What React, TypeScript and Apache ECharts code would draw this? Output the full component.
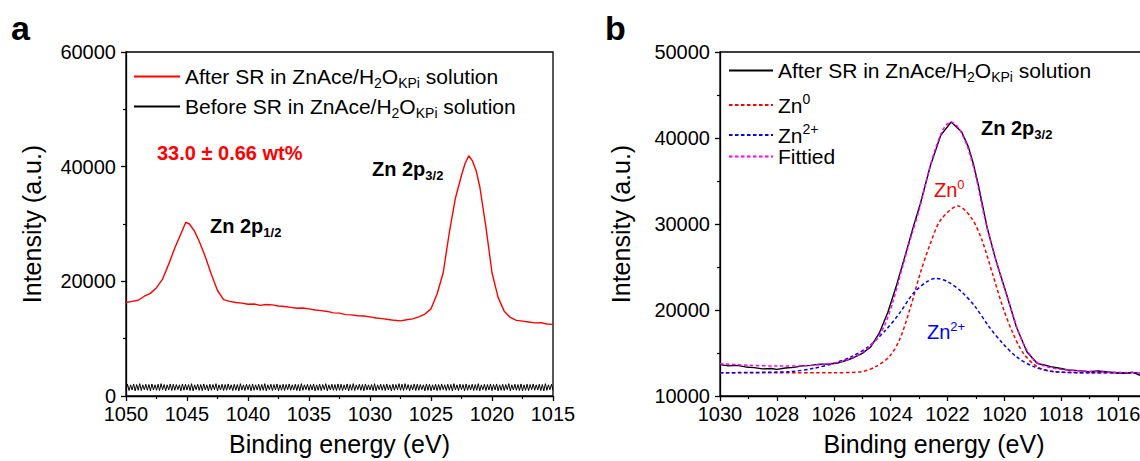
import React, { useEffect, useRef } from 'react';
import * as echarts from 'echarts';

const FONT = "'Liberation Sans', Arial, Helvetica, sans-serif";

// ---------- Panel a : survey of Zn 2p ----------
const xTicksA = [1015, 1020, 1025, 1030, 1035, 1040, 1045, 1050];
const yTicksA = [0, 20000, 40000, 60000];
const energyA = [1050, 1049.5, 1049, 1048.5, 1048, 1047.5, 1047, 1046.5, 1046, 1045.5, 1045.1, 1044.8, 1044.4, 1044, 1043.5, 1043, 1042.5, 1042, 1041.5, 1041, 1040.5, 1040, 1039.5, 1039, 1038.5, 1038, 1037.5, 1037, 1036.5, 1036, 1035.5, 1035, 1034.5, 1034, 1033.5, 1033, 1032.5, 1032, 1031.5, 1031, 1030.5, 1030, 1029.5, 1029, 1028.5, 1028, 1027.5, 1027, 1026.5, 1026, 1025.5, 1025, 1024.5, 1024, 1023.5, 1023, 1022.5, 1022.2, 1021.9, 1021.6, 1021.3, 1021, 1020.5, 1020, 1019.5, 1019, 1018.5, 1018, 1017.5, 1017, 1016.5, 1016, 1015.5, 1015];
const afterA = [16300, 16500, 16700, 17400, 17900, 18900, 20400, 23000, 25800, 28300, 30300, 30000, 28800, 27000, 24300, 21200, 18400, 16800, 16500, 16300, 16200, 16000, 16050, 15800, 15950, 15900, 15700, 15600, 15450, 15300, 15350, 15200, 15000, 14900, 14750, 14500, 14450, 14200, 14150, 14000, 13950, 13800, 13600, 13500, 13350, 13200, 13100, 13300, 13450, 13800, 14300, 15200, 17800, 21500, 28500, 34500, 38500, 40600, 41900, 41000, 39300, 36500, 29500, 21500, 17200, 14800, 13700, 13200, 13050, 12900, 12750, 12800, 12550, 12500];
const beforeStart = 1050;
const beforeStep = 0.125;
const beforeA = [
  1000, 2050, 950, 1950, 1050, 2100, 900, 2000, 1000, 2150, 950, 1950, 1100, 2050, 1000, 2000, 900, 2100, 1050, 1950,
  1000, 2050, 950, 2150, 1100, 2000, 900, 1950, 1050, 2100, 950, 2050, 1000, 2000, 1100, 1950, 900, 2100, 1000, 2050,
  1050, 2000, 950, 2150, 900, 1950, 1100, 2050, 1000, 2000, 950, 2100, 1050, 1950, 900, 2050, 1000, 2000, 1100, 2150,
  900, 1950, 1050, 2050, 950, 2000, 1000, 2100, 1100, 1950, 950, 2050, 1000, 2000, 900, 2150, 1050, 1950, 950, 2050,
  1100, 2000, 900, 2100, 1000, 1950, 1050, 2050, 950, 2000, 1000, 2150, 900, 1950, 1100, 2050, 950, 2000, 1050, 2100,
  900, 1950, 1000, 2050, 950, 2000, 1100, 2100, 1000, 1950, 1050, 2050, 950, 2000, 900, 2150, 1000, 1950, 1100, 2050,
  950, 2000, 1050, 2100, 900, 1950, 1000, 2050, 950, 2000, 1100, 2150, 900, 1950, 1050, 2050, 1000, 2000, 950, 2100,
  1000, 2050, 950, 1950, 1050, 2100, 900, 2000, 1000, 2150, 950, 1950, 1100, 2050, 1000, 2000, 900, 2100, 1050, 1950,
  1050, 2000, 950, 2150, 900, 1950, 1100, 2050, 1000, 2000, 950, 2100, 1050, 1950, 900, 2050, 1000, 2000, 1100, 2150,
  1000, 2050, 950, 2150, 1100, 2000, 900, 1950, 1050, 2100, 950, 2050, 1000, 2000, 1100, 1950, 900, 2100, 1000, 2050,
  900, 1950, 1050, 2050, 950, 2000, 1000, 2100, 1100, 1950, 950, 2050, 1000, 2000, 900, 2150, 1050, 1950, 950, 2050,
  1100, 2000, 900, 2100, 1000, 1950, 1050, 2050, 950, 2000, 1000, 2150, 900, 1950, 1100, 2050, 950, 2000, 1050, 2100,
  950, 2000, 1050, 2100, 900, 1950, 1000, 2050, 950, 2000, 1100, 2150, 900, 1950, 1050, 2050, 1000, 2000, 950, 2100,
  900, 1950, 1000, 2050, 950, 2000, 1100, 2100, 1000, 1950, 1050, 2050, 950, 2000, 900, 2150, 1000, 1950, 1100, 2050,
  1000
];

// ---------- Panel b : Zn 2p3/2 fit ----------
const xTicksB = [1014, 1016, 1018, 1020, 1022, 1024, 1026, 1028, 1030];
const yTicksB = [10000, 20000, 30000, 40000, 50000];
const energyB = [1030, 1029.7, 1029.4, 1029.1, 1028.8, 1028.5, 1028.2, 1028, 1027.7, 1027.4, 1027.1, 1026.8, 1026.5, 1026.2, 1025.9, 1025.6, 1025.3, 1025, 1024.7, 1024.4, 1024.1, 1023.8, 1023.5, 1023.2, 1022.96, 1022.6, 1022.24, 1021.87, 1021.5, 1021.27, 1021.09, 1020.9, 1020.6, 1020.3, 1019.94, 1019.58, 1019.21, 1018.85, 1018.6, 1018.37, 1018.1, 1017.76, 1017.4, 1017.04, 1016.7, 1016.43, 1016.1, 1015.7, 1015.5, 1015.25, 1015, 1014.6, 1014];
const afterB = [13650, 13500, 13560, 13380, 13300, 13150, 13200, 13100, 13260, 13330, 13500, 13560, 13700, 13720, 13800, 14100, 14450, 14950, 15700, 17300, 19700, 22800, 26200, 29700, 32300, 36800, 40300, 41860, 40700, 39000, 37000, 34300, 29500, 25800, 22000, 18060, 15150, 13800, 13600, 13410, 13250, 13020, 12950, 12830, 12900, 12830, 12700, 12640, 12780, 12440, 12500, 12480, 12450];
const fitE = [1030, 1029, 1028, 1027, 1026.3, 1025.8, 1025.3, 1024.9, 1024.5, 1024.2, 1023.9, 1023.6, 1023.3, 1023, 1022.7, 1022.4, 1022.1, 1021.87, 1021.6, 1021.3, 1021, 1020.7, 1020.4, 1020.1, 1019.8, 1019.5, 1019.2, 1018.9, 1018.5, 1018, 1017, 1016, 1015, 1014];
const fitB = [13750, 13580, 13480, 13520, 13700, 13950, 14500, 15300, 16600, 18300, 21200, 24800, 28300, 31600, 35600, 39000, 41300, 41860, 41100, 39000, 35500, 30800, 27000, 23600, 20500, 17400, 15300, 14000, 13400, 13100, 12850, 12750, 12650, 12600];
const zn0E = [1030, 1026, 1025.02, 1024.53, 1024.05, 1023.69, 1023.33, 1022.96, 1022.6, 1022.24, 1021.63, 1021.15, 1020.79, 1020.42, 1020.06, 1019.7, 1019.33, 1018.85, 1018.25, 1017, 1014];
const zn0B = [12710, 12710, 12830, 13410, 14570, 16510, 20000, 24260, 27750, 30465, 32090, 30660, 28140, 24260, 20390, 17290, 14960, 13410, 12830, 12710, 12710];
const zn2E = [1030, 1027.56, 1026.71, 1025.99, 1025.38, 1024.78, 1024.17, 1023.69, 1023.2, 1022.72, 1022.42, 1022, 1021.51, 1021.03, 1020.54, 1020.06, 1019.58, 1018.97, 1018.25, 1017, 1014];
const zn2B = [12710, 12830, 13220, 13800, 14570, 15740, 17670, 19610, 21940, 23300, 23680, 23300, 22130, 20390, 18060, 16120, 14570, 13410, 12830, 12710, 12710];

const pair = (xs: number[], ys: number[]) => xs.map((x, i) => [x, ys[i]]);

const LEGEND_TEXT: Record<string, string> = {
  afterA: 'After SR in ZnAce/H{sub|2}O{sub|KPi} solution',
  beforeA: 'Before SR in ZnAce/H{sub|2}O{sub|KPi} solution',
  afterB: 'After SR in ZnAce/H{sub|2}O{sub|KPi} solution',
  zn0: 'Zn{sup|0}',
  zn2: 'Zn{sup|2+}',
  fit: 'Fittied',
};

const richLegend = {
  sub: { fontSize: 14, fontFamily: FONT, color: '#000', padding: [12, 0, 0, 0] },
  sup: { fontSize: 14, fontFamily: FONT, color: '#000', padding: [0, 0, 12, 0] },
};

function legendFor(name: string, left: number, top: number, itemWidth: number) {
  return {
    show: true,
    data: [name],
    left,
    top,
    orient: 'vertical',
    itemWidth,
    itemHeight: 14,
    itemGap: 0,
    padding: 0,
    selectedMode: false,
    itemStyle: { opacity: 0 },
    formatter: (n: string) => LEGEND_TEXT[n] || n,
    textStyle: { fontSize: 21, fontFamily: FONT, color: '#000', rich: richLegend },
  };
}

const plainLabel = (v: number) => String(v);

function axisCommon() {
  return {
    axisLine: { show: true, onZero: false, lineStyle: { color: '#000', width: 1.3 } },
    axisTick: { show: true, inside: false, length: 5, lineStyle: { color: '#000', width: 1.3 } },
    minorTick: { show: true, splitNumber: 2, length: 3, lineStyle: { color: '#000', width: 1.2 } },
    splitLine: { show: false },
    minorSplitLine: { show: false },
    axisLabel: { color: '#000', fontSize: 20, fontFamily: FONT, margin: 8, formatter: plainLabel },
    nameTextStyle: { color: '#000', fontSize: 25, fontFamily: FONT },
  };
}

export default function App() {
  const ref = useRef<HTMLDivElement>(null);
  useEffect(() => {
    if (!ref.current) return;
    const chart = echarts.init(ref.current, null, { renderer: 'svg' });
    const beforePairs = beforeA.map((v, i) => [beforeStart - i * beforeStep, v]);
    const dash = [3.5, 2.5];
    const subRich = { sub: { font: `bold 13px ${FONT}`, fill: '#000', padding: [12, 0, 0, 0] } };
    const option: any = {
      animation: false,
      backgroundColor: '#fff',
      textStyle: { fontFamily: FONT },
      grid: [
        { left: 126, top: 52, width: 427, height: 344, show: true, borderColor: '#000', borderWidth: 1.3, backgroundColor: 'transparent', containLabel: false, outerBoundsMode: 'none' },
        { left: 720, top: 52, width: 455, height: 344, show: true, borderColor: '#000', borderWidth: 1.3, backgroundColor: 'transparent', containLabel: false, outerBoundsMode: 'none' },
      ],
      xAxis: [
        {
          ...axisCommon(), gridIndex: 0, type: 'value', inverse: true,
          min: xTicksA[0], max: xTicksA[xTicksA.length - 1], interval: xTicksA[1] - xTicksA[0],
          name: 'Binding energy (eV)', nameLocation: 'middle', nameGap: 35,
        },
        {
          ...axisCommon(), gridIndex: 1, type: 'value', inverse: true,
          min: xTicksB[0], max: xTicksB[xTicksB.length - 1], interval: xTicksB[1] - xTicksB[0],
          name: 'Binding energy (eV)', nameLocation: 'middle', nameGap: 35,
          nameTextStyle: { color: '#000', fontSize: 25, fontFamily: FONT, padding: [0, 27, 0, 0] },
        },
      ],
      yAxis: [
        {
          ...axisCommon(), gridIndex: 0, type: 'value',
          min: yTicksA[0], max: yTicksA[yTicksA.length - 1], interval: yTicksA[1] - yTicksA[0],
          axisLabel: { color: '#000', fontSize: 20, fontFamily: FONT, margin: 10, formatter: plainLabel },
          name: 'Intensity (a.u.)', nameLocation: 'middle', nameGap: 82,
        },
        {
          ...axisCommon(), gridIndex: 1, type: 'value',
          min: yTicksB[0], max: yTicksB[yTicksB.length - 1], interval: yTicksB[1] - yTicksB[0],
          axisLabel: { color: '#000', fontSize: 20, fontFamily: FONT, margin: 10, formatter: plainLabel },
          name: 'Intensity (a.u.)', nameLocation: 'middle', nameGap: 87,
        },
      ],
      legend: [
        legendFor('afterA', 133, 66, 46),
        legendFor('beforeA', 133, 96, 46),
        legendFor('afterB', 728, 60, 44),
        legendFor('zn0', 728, 92, 44),
        legendFor('zn2', 728, 122, 44),
        legendFor('fit', 728, 146, 44),
      ],
      series: [
        { type: 'line', name: 'beforeA', xAxisIndex: 0, yAxisIndex: 0, data: beforePairs, symbol: 'none', lineStyle: { color: '#000', width: 1 }, itemStyle: { color: '#000' } },
        { type: 'line', name: 'afterA', xAxisIndex: 0, yAxisIndex: 0, data: pair(energyA, afterA), symbol: 'none', lineStyle: { color: '#ff0000', width: 1.4 }, itemStyle: { color: '#ff0000' } },
        { type: 'line', name: 'zn0', xAxisIndex: 1, yAxisIndex: 1, data: pair(zn0E, zn0B), symbol: 'none', smooth: 0.3, lineStyle: { color: '#ff0000', width: 1.5, type: dash }, itemStyle: { color: '#ff0000' } },
        { type: 'line', name: 'zn2', xAxisIndex: 1, yAxisIndex: 1, data: pair(zn2E, zn2B), symbol: 'none', smooth: 0.3, lineStyle: { color: '#0000ff', width: 1.5, type: dash }, itemStyle: { color: '#0000ff' } },
        { type: 'line', name: 'afterB', xAxisIndex: 1, yAxisIndex: 1, data: pair(energyB, afterB), symbol: 'none', lineStyle: { color: '#000', width: 1.4 }, itemStyle: { color: '#000' } },
        { type: 'line', name: 'fit', xAxisIndex: 1, yAxisIndex: 1, data: pair(fitE, fitB), symbol: 'none', smooth: 0.3, lineStyle: { color: '#ff00ff', width: 1.5, type: dash }, itemStyle: { color: '#ff00ff' } },
      ],
      graphic: [
        { type: 'text', x: 11, y: 28, style: { text: 'a', font: `bold 34px ${FONT}`, fill: '#000', align: 'left', verticalAlign: 'middle' } },
        { type: 'text', x: 605, y: 28, style: { text: 'b', font: `bold 34px ${FONT}`, fill: '#000', align: 'left', verticalAlign: 'middle' } },
        { type: 'text', x: 157, y: 153, style: { text: '33.0 ± 0.66 wt%', font: `bold 20px ${FONT}`, fill: '#ff0000', align: 'left', verticalAlign: 'middle' } },
        { type: 'text', x: 210, y: 226, style: { text: 'Zn 2p{sub|1/2}', font: `bold 20px ${FONT}`, fill: '#000', align: 'left', verticalAlign: 'middle', rich: subRich } },
        { type: 'text', x: 372, y: 169, style: { text: 'Zn 2p{sub|3/2}', font: `bold 20px ${FONT}`, fill: '#000', align: 'left', verticalAlign: 'middle', rich: subRich } },
        { type: 'text', x: 981, y: 128, style: { text: 'Zn 2p{sub|3/2}', font: `bold 20px ${FONT}`, fill: '#000', align: 'left', verticalAlign: 'middle', rich: subRich } },
        {
          type: 'text', x: 934, y: 190,
          style: {
            text: 'Zn{sup|0}', font: `20px ${FONT}`, fill: '#ff0000', align: 'left', verticalAlign: 'middle',
            rich: { sup: { font: `13px ${FONT}`, fill: '#ff0000', padding: [0, 0, 12, 0] } },
          },
        },
        {
          type: 'text', x: 927, y: 332,
          style: {
            text: 'Zn{sup|2+}', font: `20px ${FONT}`, fill: '#0000ff', align: 'left', verticalAlign: 'middle',
            rich: { sup: { font: `13px ${FONT}`, fill: '#0000ff', padding: [0, 0, 12, 0] } },
          },
        },
      ],
    };
    chart.setOption(option);
    return () => chart.dispose();
  }, []);
  return <div ref={ref} style={{ position: 'absolute', left: 0, top: 0, width: 1140, height: 461 }} />;
}
